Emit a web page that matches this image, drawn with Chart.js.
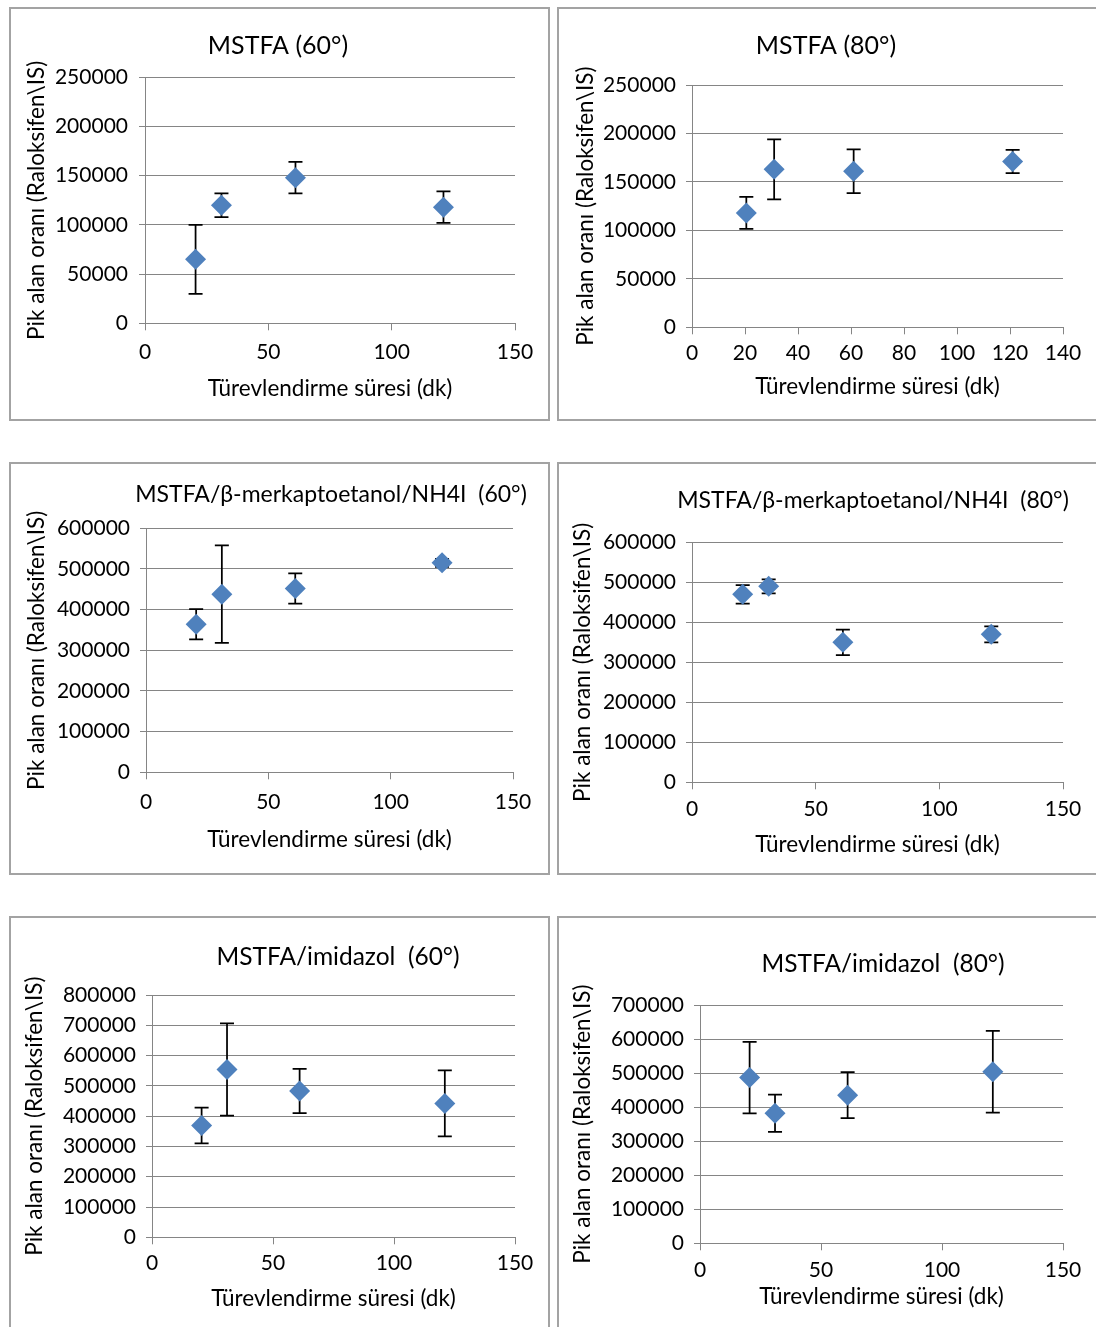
<!DOCTYPE html>
<html>
<head>
<meta charset="utf-8">
<script src="https://cdn.jsdelivr.net/npm/chart.js@4.4.1/dist/chart.umd.min.js"></script>
<style>
    body { margin: 0; background: #fff; width: 1096px; height: 1327px; overflow: hidden; position: relative; }
    .panel { position: absolute; box-sizing: border-box; border: 2px solid #a3a3a3; background: #fff; }
    .panel canvas { position: absolute; left: 0; top: 0; }
</style>
</head>
<body>
<div class="panel" id="p1"><canvas></canvas></div>
<div class="panel" id="p2"><canvas></canvas></div>
<div class="panel" id="p3"><canvas></canvas></div>
<div class="panel" id="p4"><canvas></canvas></div>
<div class="panel" id="p5"><canvas></canvas></div>
<div class="panel" id="p6"><canvas></canvas></div>
<script>
// Derivatisation time (dk) - same four points in every panel
const times = [20.5, 31, 61, 121];

// Peak area ratios (Raloksifen\IS) and their error bars (+/-)
const mstfa60 = [65000, 120000, 148000, 118000];
const mstfa60Err = [35000, 12000, 16000, 16000];
const mstfa80 = [118000, 163000, 161000, 171000];
const mstfa80Err = [16500, 31000, 22500, 12000];
const merk60 = [364000, 438000, 452000, 515000];
const merk60Err = [37000, 120000, 37000, 10000];
const merk80 = [470000, 490000, 350000, 370000];
const merk80Err = [23000, 17500, 32000, 20000];
const imid60 = [369000, 554000, 483000, 442000];
const imid60Err = [59000, 152000, 73000, 109000];
const imid80 = [487000, 382000, 435000, 504000];
const imid80Err = [105000, 55000, 67500, 120000];

// Axis ranges per panel
const yMaxes = [250000, 250000, 600000, 600000, 800000, 700000];
const yStepsList = [50000, 50000, 100000, 100000, 100000, 100000];
const xMaxes = [150, 140, 150, 150, 150, 150];
const xStepsList = [50, 20, 50, 50, 50, 50];

const titles = [
    'MSTFA (60°)',
    'MSTFA (80°)',
    'MSTFA/β-merkaptoetanol/NH4I  (60°)',
    'MSTFA/β-merkaptoetanol/NH4I  (80°)',
    'MSTFA/imidazol  (60°)',
    'MSTFA/imidazol  (80°)'
];
const xAxisTitle = 'Türevlendirme süresi (dk)';
const yAxisTitle = 'Pik alan oranı (Raloksifen\\IS)';

const FONT = "Lato, 'Open Sans', sans-serif";
const TEXT = '#000';
const GRID = '#858585';
const MARKER = '#4f81bd';
const BORDER = 2;

// Page layout of each panel (absolute px): box, plot area, text anchors
const layouts = [
    { box: [9, 7, 541, 414], plot: [145, 515, 77.3, 323.3], titleX: 278, titleY: 46, titleSize: 25, xLabelY: 352, xTitleY: 389, yTitleX: 37, yLabelRight: 128 },
    { box: [557, 7, 541, 414], plot: [692, 1063, 85, 327.3], titleX: 826, titleY: 46, titleSize: 25, xLabelY: 353, xTitleY: 387, yTitleX: 586, yLabelRight: 676 },
    { box: [9, 462, 541, 413], plot: [146, 513, 528.3, 772.3], titleX: 331, titleY: 495, titleSize: 23, xLabelY: 802, xTitleY: 840, yTitleX: 37, yLabelRight: 130 },
    { box: [557, 462, 541, 413], plot: [692, 1063, 542.3, 782.3], titleX: 873, titleY: 501, titleSize: 23, xLabelY: 809, xTitleY: 845, yTitleX: 583, yLabelRight: 676 },
    { box: [9, 916, 541, 413], plot: [152, 515, 995, 1237.3], titleX: 338, titleY: 957, titleSize: 24.5, xLabelY: 1263, xTitleY: 1299, yTitleX: 35, yLabelRight: 136 },
    { box: [557, 916, 541, 413], plot: [700, 1063, 1005, 1243.3], titleX: 883, titleY: 964, titleSize: 24.5, xLabelY: 1270, xTitleY: 1297, yTitleX: 583, yLabelRight: 684 }
];

const seriesList = [
    [mstfa60, mstfa60Err],
    [mstfa80, mstfa80Err],
    [merk60, merk60Err],
    [merk80, merk80Err],
    [imid60, imid60Err],
    [imid80, imid80Err]
];

// Vertical error bars with caps, drawn under the markers
const errorBars = {
    id: 'errorBars',
    beforeDatasetsDraw(chart) {
        const { ctx, scales: { x, y } } = chart;
        chart.data.datasets.forEach(ds => {
            if (!ds.errors) return;
            ctx.save();
            ctx.strokeStyle = '#000';
            ctx.lineWidth = 1.75;
            ds.data.forEach((pt, i) => {
                const px = x.getPixelForValue(pt.x);
                const top = y.getPixelForValue(pt.y + ds.errors[i]);
                const bot = y.getPixelForValue(pt.y - ds.errors[i]);
                ctx.beginPath();
                ctx.moveTo(px, top);
                ctx.lineTo(px, bot);
                ctx.moveTo(px - 7, top);
                ctx.lineTo(px + 7, top);
                ctx.moveTo(px - 7, bot);
                ctx.lineTo(px + 7, bot);
                ctx.stroke();
            });
            ctx.restore();
        });
    }
};

// Panel title placed freely (Excel titles are not centred on the plot)
const panelTitle = {
    id: 'panelTitle',
    afterDraw(chart, args, opts) {
        const ctx = chart.ctx;
        ctx.save();
        ctx.font = `${opts.size}px ${FONT}`;
        ctx.fillStyle = TEXT;
        ctx.textAlign = 'center';
        ctx.textBaseline = 'middle';
        ctx.fillText(opts.text, opts.x, opts.y);
        ctx.restore();
    }
};

const makePanel = (index) => {
    const lay = layouts[index];
    const [values, errors] = seriesList[index];
    const div = document.getElementById('p' + (index + 1));
    const [bx, by, bw, bh] = lay.box;
    div.style.left = bx + 'px';
    div.style.top = by + 'px';
    div.style.width = bw + 'px';
    div.style.height = bh + 'px';

    const cx0 = bx + BORDER;
    const cy0 = by + BORDER;
    const cw = bw - 2 * BORDER;
    const ch = bh - 2 * BORDER;
    const canvas = div.querySelector('canvas');
    canvas.width = cw;
    canvas.height = ch;

    const [plotL, plotR, plotT, plotB] = lay.plot;
    const padL = 4;
    const padB = 4;
    const tickSize = 21;
    const axisSize = 22.5;
    const yTick = 6;
    const xTick = 7;
    const axisLh = axisSize * 1.2;
    const yWidth = plotL - cx0 - padL;
    const xHeight = (cy0 + ch - padB) - plotB;

    new Chart(canvas.getContext('2d'), {
        type: 'scatter',
        data: {
            datasets: [{
                data: times.map((t, i) => ({ x: t, y: values[i] })),
                errors: errors,
                pointStyle: 'rectRot',
                pointRadius: 10.5,
                pointBackgroundColor: MARKER,
                pointBorderColor: MARKER,
                pointBorderWidth: 0,
                showLine: false
            }]
        },
        options: {
            responsive: false,
            animation: false,
            layout: {
                padding: { left: padL, right: cx0 + cw - plotR, top: plotT - cy0, bottom: padB }
            },
            plugins: {
                legend: { display: false },
                tooltip: { enabled: false },
                title: { display: false },
                panelTitle: {
                    text: titles[index],
                    x: lay.titleX - cx0,
                    y: lay.titleY - cy0,
                    size: lay.titleSize
                }
            },
            scales: {
                x: {
                    type: 'linear',
                    min: 0,
                    max: xMaxes[index],
                    ticks: {
                        stepSize: xStepsList[index],
                        color: TEXT,
                        font: { family: FONT, size: tickSize, lineHeight: 1.2 },
                        padding: lay.xLabelY - plotB - xTick - tickSize * 0.6,
                        maxRotation: 0
                    },
                    grid: { drawOnChartArea: false, drawTicks: true, tickLength: xTick, color: GRID, lineWidth: 1 },
                    border: { display: true, color: GRID, width: 1 },
                    title: {
                        display: true,
                        text: xAxisTitle,
                        color: TEXT,
                        font: { family: FONT, size: axisSize, lineHeight: 1.2 },
                        padding: { top: 0, bottom: (cy0 + ch - padB) - lay.xTitleY - axisLh / 2 }
                    },
                    afterFit: (scale) => { scale.height = xHeight; }
                },
                y: {
                    min: 0,
                    max: yMaxes[index],
                    ticks: {
                        stepSize: yStepsList[index],
                        color: TEXT,
                        font: { family: FONT, size: tickSize, lineHeight: 1.2 },
                        padding: plotL - lay.yLabelRight - yTick,
                        callback: (v) => String(v)
                    },
                    grid: { drawTicks: true, tickLength: yTick, color: GRID, lineWidth: 1 },
                    border: { display: true, color: GRID, width: 1 },
                    title: {
                        display: true,
                        text: yAxisTitle,
                        color: TEXT,
                        font: { family: FONT, size: axisSize, lineHeight: 1.2 },
                        padding: { top: lay.yTitleX - cx0 - padL - axisLh / 2, bottom: 0 }
                    },
                    afterFit: (scale) => { scale.width = yWidth; }
                }
            }
        },
        plugins: [errorBars, panelTitle]
    });
};

layouts.forEach((_, i) => makePanel(i));
</script>
</body>
</html>
